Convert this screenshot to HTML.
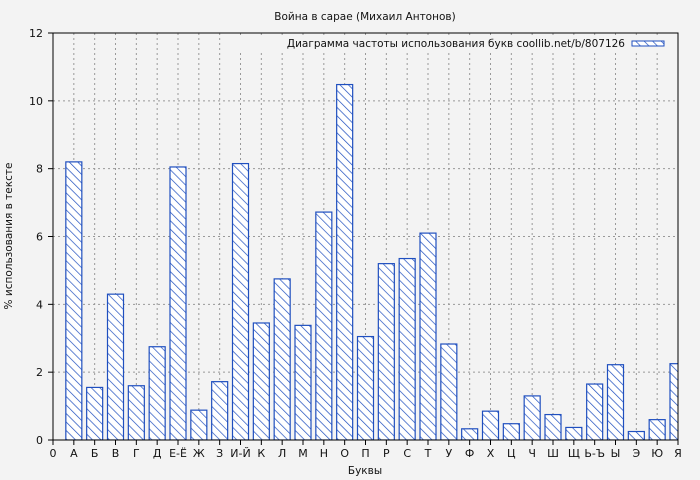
<!DOCTYPE html>
<html><head><meta charset="utf-8"><style>body{margin:0;background:#f3f3f3}svg{display:block}text{font-family:"DejaVu Sans","Liberation Sans",sans-serif;fill:#111}</style></head><body>
<svg width="700" height="480" xmlns="http://www.w3.org/2000/svg">
<defs>
<pattern id="h" patternUnits="userSpaceOnUse" width="6" height="6" patternTransform="rotate(-45)">
<rect width="6" height="6" fill="#fff"/><line x1="0" y1="0" x2="0" y2="6" stroke="#1f4fbf" stroke-width="1.4"/>
</pattern>
<clipPath id="c"><rect x="53" y="33" width="625" height="407"/></clipPath>
</defs>
<rect width="700" height="480" fill="#f3f3f3"/>
<text x="365" y="20" font-size="10.5" text-anchor="middle">Война в сарае (Михаил Антонов)</text>
<g id="grid" stroke="#999" stroke-dasharray="2,3" stroke-width="1"></g>
<g id="bars" clip-path="url(#c)"></g>
<rect x="53" y="33" width="625" height="407" fill="none" stroke="#000" stroke-width="1"/>
<g id="ax"></g>
<rect x="240" y="36" width="436" height="14" fill="#f3f3f3"/>
<text x="625" y="47" font-size="10.5" text-anchor="end">Диаграмма частоты использования букв coollib.net/b/807126</text>
<rect x="632" y="41" width="32" height="5" fill="url(#h)" stroke="#1f4fbf" stroke-width="1"/>
<text x="365" y="474" font-size="10.5" text-anchor="middle">Буквы</text>
<text transform="translate(12,236) rotate(-90)" font-size="10.5" text-anchor="middle">% использования в тексте</text>
</svg>
<script>
var L=["0","А","Б","В","Г","Д","Е-Ё","Ж","З","И-Й","К","Л","М","Н","О","П","Р","С","Т","У","Ф","Х","Ц","Ч","Ш","Щ","Ь-Ъ","Ы","Э","Ю","Я"];
var V=[0,8.2,1.55,4.3,1.6,2.75,8.05,0.88,1.72,8.15,3.45,4.75,3.38,6.72,10.48,3.05,5.2,5.35,6.1,2.83,0.33,0.85,0.48,1.3,0.75,0.37,1.65,2.22,0.25,0.6,2.25];
var ns="http://www.w3.org/2000/svg";
function el(p,t,a,tx){var e=document.createElementNS(ns,t);for(var k in a)e.setAttribute(k,a[k]);if(tx)e.textContent=tx;document.getElementById(p).appendChild(e);}
function X(i){return 53+i*625/30;}function Y(v){return 440-v*407/12;}
for(var v=2;v<=12;v+=2)el("grid","line",{x1:53,x2:678,y1:Y(v),y2:Y(v)});
for(var i=1;i<30;i++)el("grid","line",{x1:X(i),x2:X(i),y1:33,y2:440});
for(var i=1;i<=30;i++)el("bars","rect",{x:X(i)-8,y:Y(V[i]),width:16,height:440-Y(V[i]),fill:"url(#h)",stroke:"#1f4fbf","stroke-width":1.2});
for(var v=0;v<=12;v+=2){el("ax","line",{x1:48,x2:53,y1:Y(v),y2:Y(v),stroke:"#000"});el("ax","text",{x:43,y:Y(v)+4,"font-size":11,"text-anchor":"end"},String(v));}
for(var i=0;i<=30;i++){el("ax","line",{x1:X(i),x2:X(i),y1:440,y2:445,stroke:"#000"});el("ax","text",{x:X(i),y:457,"font-size":11,"text-anchor":"middle"},L[i]);}
</script>
</body></html>
